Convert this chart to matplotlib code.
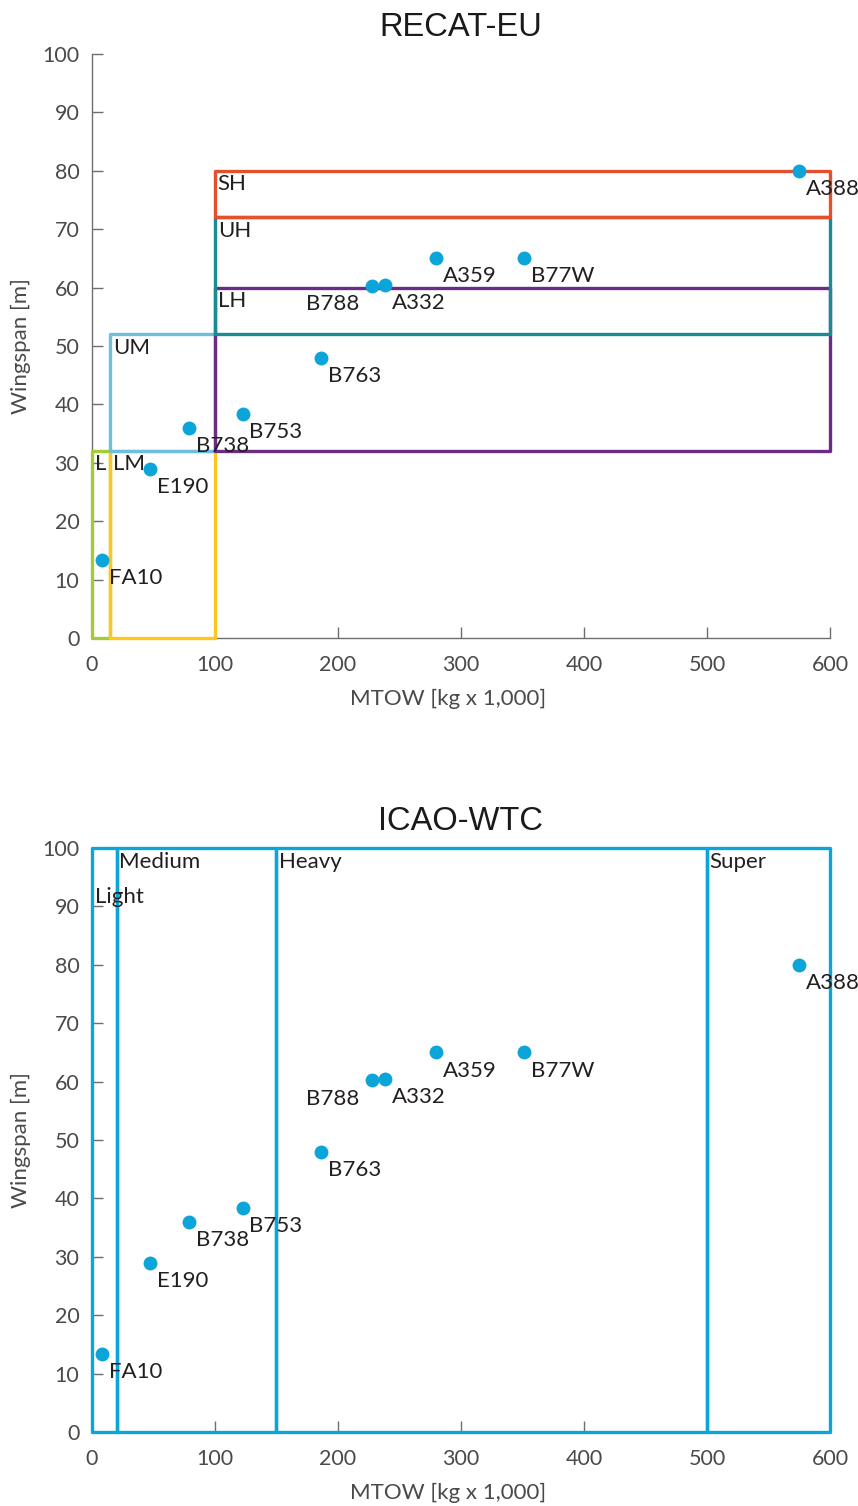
import matplotlib
matplotlib.use("Agg")
import matplotlib.pyplot as plt
from matplotlib.patches import Rectangle

# Aircraft: MTOW [t] and wingspan [m]
aircraft = ["FA10", "E190", "B738", "B753", "B763", "B788", "A332", "A359", "B77W", "A388"]
mtow = [8.5, 47.0, 79.0, 122.5, 186.0, 227.9, 238.0, 280.0, 351.5, 575.0]
wingspan = [13.4, 29.0, 36.0, 38.3, 47.9, 60.2, 60.5, 65.0, 65.0, 80.0]

# RECAT-EU categories: (name, mtow_min, mtow_max, span_min, span_max)
recat_names = ["L", "LM", "UM", "LH", "UH", "SH"]
recat_mtow_min = [0, 15, 15, 100, 100, 100]
recat_mtow_max = [15, 100, 100, 600, 600, 600]
recat_span_min = [0, 0, 32, 32, 52, 72]
recat_span_max = [32, 32, 52, 60, 72, 80]
recat_colors = ["#A3CB38", "#FFC61E", "#6DBFDD", "#6B2C84", "#178C93", "#E4502C"]

# ICAO wake turbulence categories (by MTOW)
icao_names = ["Light", "Medium", "Heavy", "Super"]
icao_mtow_min = [0, 20, 150, 500]
icao_mtow_max = [20, 150, 500, 600]
icao_label_y = [91.6, 97.6, 97.6, 97.6]

DOT = "#0BA5D9"
TXT = "#231F20"
FONT = ["Lato", "DejaVu Sans"]

plt.rcParams["font.family"] = FONT

fig = plt.figure(figsize=(8.58, 15.06), dpi=100)
ax1 = fig.add_axes([0.1072, 0.5764, 0.8601, 0.3878])
ax2 = fig.add_axes([0.1072, 0.0491, 0.8601, 0.3878])


def style_axes(ax, title):
    ax.set_xlim(0, 600)
    ax.set_ylim(0, 100)
    ax.set_xticks(range(0, 601, 100))
    ax.set_yticks(range(0, 101, 10))
    for s in ["top", "right"]:
        ax.spines[s].set_visible(False)
    for s in ["left", "bottom"]:
        ax.spines[s].set_color("#6E6E6E")
        ax.spines[s].set_linewidth(1.0)
    ax.tick_params(direction="in", length=8, width=1, color="#6E6E6E",
                   labelcolor="#4A4A4A", labelsize=15.5)
    ax.tick_params(axis="y", pad=9)
    ax.tick_params(axis="x", pad=12)
    ax.set_xlabel("MTOW [kg x 1,000]", fontsize=16, color="#4A4A4A", labelpad=10)
    ax.xaxis.set_label_coords(0.482, -0.087)
    ax.set_ylabel("Wingspan [m]", fontsize=16, color="#4A4A4A", labelpad=8)
    ax.set_title(title, fontsize=23.5, family="Liberation Sans", color="#1A1A1A", pad=13)


def draw_aircraft(ax):
    ax.plot(mtow, wingspan, "o", color=DOT, markersize=10, markeredgewidth=0,
            zorder=5, clip_on=False)
    for name, x, y in zip(aircraft, mtow, wingspan):
        if name == "B788":
            ax.text(x - 10.5, y - 3.1, name, ha="right", va="center",
                    fontsize=16, color=TXT, zorder=6)
        else:
            ax.text(x + 5.5, y - 3.1, name, ha="left", va="center",
                    fontsize=16, color=TXT, zorder=6)


# RECAT-EU panel
style_axes(ax1, "RECAT-EU")
for name, x0, x1, y0, y1, c in zip(recat_names, recat_mtow_min, recat_mtow_max,
                                   recat_span_min, recat_span_max, recat_colors):
    ax1.add_patch(Rectangle((x0, y0), x1 - x0, y1 - y0, fill=False, edgecolor=c,
                            linewidth=2.4, joinstyle="round", zorder=3, clip_on=False))
for name, x0, y1 in zip(recat_names, recat_mtow_min, recat_span_max):
    ax1.text(x0 + 2.2, y1 - 2.3, name, ha="left", va="center", fontsize=16,
             color=TXT, zorder=6)
draw_aircraft(ax1)

# ICAO-WTC panel
style_axes(ax2, "ICAO-WTC")
for name, x0, x1 in zip(icao_names, icao_mtow_min, icao_mtow_max):
    ax2.add_patch(Rectangle((x0, 0), x1 - x0, 100, fill=False, edgecolor=DOT,
                            linewidth=2.4, joinstyle="round", zorder=3, clip_on=False))
for name, x0, y in zip(icao_names, icao_mtow_min, icao_label_y):
    ax2.text(x0 + 2.2, y, name, ha="left", va="center", fontsize=16,
             color=TXT, zorder=6)
draw_aircraft(ax2)

fig.savefig("out.png", dpi=100)
